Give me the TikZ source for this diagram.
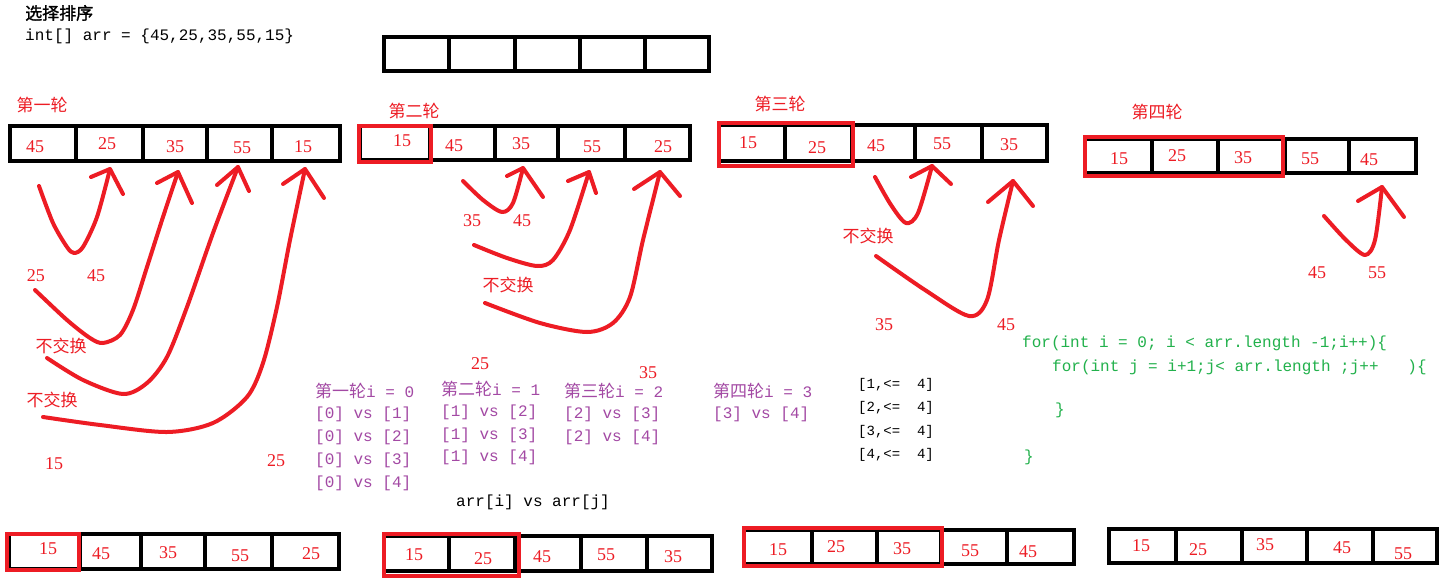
\documentclass[tikz,border=0pt]{standalone}
\usepackage{fontspec}
\setmainfont{Liberation Serif}
\setmonofont{Liberation Mono}
\newfontfamily\cjk{Noto Sans CJK SC}
\newfontfamily\cjkb[FakeBold=1.5]{Noto Sans CJK SC}
\usepackage{xcolor}
\usepackage{tikz}
\definecolor{pred}{RGB}{237,28,36}
\definecolor{ppurple}{RGB}{163,73,164}
\definecolor{pgreen}{RGB}{34,177,76}
\tikzset{
  cellbox/.style ={draw=black,line width=4.5pt},
  hibox/.style   ={draw=pred,line width=4pt},
  pen/.style     ={draw=pred,line width=4pt,line cap=round,line join=round},
  num/.style     ={text=pred,inner sep=0pt,font=\fontsize{18}{20}\selectfont},
  redcjk/.style  ={text=pred,inner sep=0pt,font=\cjk\fontsize{17}{19}\selectfont},
  idx/.style     ={text=ppurple,inner sep=0pt,anchor=west,font=\ttfamily\fontsize{16}{18}\selectfont},
  code/.style    ={text=pgreen,inner sep=0pt,anchor=west,font=\ttfamily\fontsize{16}{18}\selectfont},
  plain/.style   ={text=black,inner sep=0pt,anchor=west,font=\ttfamily\fontsize{16}{18}\selectfont},
}

\begin{document}
\begin{tikzpicture}[x=1pt,y=-1pt]
  \fill[white] (0,0) rectangle (1447,583);
  \useasboundingbox (0,0) rectangle (1447,583);
  % heading
  \node[inner sep=0pt,anchor=west,font=\cjkb\fontsize{17}{19}\selectfont] (title) at (25,13) {选择排序};
  \node[plain] (decl) at (25,36) {int[] arr = \{45,25,35,55,15\}};
  % empty array
  \draw[cellbox] (384,37) rectangle (709,71);
  \draw[cellbox] (449,37)--(449,71) (515,37)--(515,71) (580,37)--(580,71) (645,37)--(645,71);

  % ---- round 1 ----
  \node[redcjk] (r1) at (42,105) {第一轮};
  \draw[cellbox] (10,126) rectangle (340,161);
  \draw[cellbox] (76,126)--(76,161) (143,126)--(143,161) (207,126)--(207,161) (272,126)--(272,161);
  \node[num] (a1-1) at (35,147) {45};
  \node[num] (a1-2) at (107,144) {25};
  \node[num] (a1-3) at (175,147) {35};
  \node[num] (a1-4) at (242,148) {55};
  \node[num] (a1-5) at (303,147) {15};
  \coordinate (s11) at (39,186);  \coordinate (t11) at (110,169);
  \coordinate (s12) at (35,290);  \coordinate (t12) at (178,172);
  \coordinate (s13) at (47,358);  \coordinate (t13) at (238,167);
  \coordinate (s14) at (43,417);  \coordinate (t14) at (305,169);
  \draw[pen] plot[smooth] coordinates {(s11) (53,223) (67,247) (74,253) (83,247) (97,217) (t11)};
  \draw[pen] (91,177)--(t11)--(123,194);
  \draw[pen] plot[smooth] coordinates {(s12) (67,320) (90,338) (103,343) (120,335) (133,310) (147,267) (163,217) (t12)};
  \draw[pen] (157,183)--(t12)--(192,203);
  \draw[pen] plot[smooth] coordinates {(s13) (83,380) (123,394) (147,383) (167,357) (187,307) (213,233) (t13)};
  \draw[pen] (217,185)--(t13)--(249,191);
  \draw[pen] plot[smooth] coordinates {(s14) (100,425) (167,432) (213,423) (247,397) (263,363) (277,307) (290,240) (t14)};
  \draw[pen] (283,184)--(t14)--(324,198);
  \node[num] (l11) at (36,276) {25};
  \node[num] (l12) at (96,276) {45};
  \node[redcjk] (n11) at (61,346) {不交换};
  \node[redcjk] (n12) at (52,400) {不交换};
  \node[num] (l13) at (54,464) {15};
  \node[num] (l14) at (276,461) {25};

  % ---- round 2 ----
  \node[redcjk] (r2) at (414,111) {第二轮};
  \draw[cellbox] (360,126) rectangle (690,160);
  \draw[cellbox] (430,126)--(430,160) (495,126)--(495,160) (558,126)--(558,160) (625,126)--(625,160);
  \draw[hibox] (359,126) rectangle (431,162);
  \node[num] (a2-1) at (402,141) {15};
  \node[num] (a2-2) at (454,146) {45};
  \node[num] (a2-3) at (521,144) {35};
  \node[num] (a2-4) at (592,147) {55};
  \node[num] (a2-5) at (663,147) {25};
  \coordinate (s21) at (463,181);  \coordinate (t21) at (523,168);
  \coordinate (s22) at (474,245);  \coordinate (t22) at (589,172);
  \coordinate (s23) at (485,303);  \coordinate (t23) at (660,172);
  \draw[pen] plot[smooth] coordinates {(s21) (483,200) (502,212) (513,203) (t21)};
  \draw[pen] (507,176)--(t21)--(543,197);
  \draw[pen] plot[smooth] coordinates {(s22) (507,258) (537,266) (553,260) (570,230) (t22)};
  \draw[pen] (568,181)--(t22)--(596,193);
  \draw[pen] plot[smooth] coordinates {(s23) (540,323) (587,332) (613,323) (630,297) (643,240) (t23)};
  \draw[pen] (634,189)--(t23)--(680,196);
  \node[num] (l21) at (472,221) {35};
  \node[num] (l22) at (522,221) {45};
  \node[redcjk] (n21) at (508,285) {不交换};
  \node[num] (l23) at (480,364) {25};
  \node[num] (l24) at (648,373) {35};

  % ---- round 3 ----
  \node[redcjk] (r3) at (780,104) {第三轮};
  \draw[cellbox] (719,125) rectangle (1047,161);
  \draw[cellbox] (785,125)--(785,161) (852,125)--(852,161) (915,125)--(915,161) (982,125)--(982,161);
  \draw[hibox] (719,123) rectangle (853,166);
  \node[num] (a3-1) at (748,143) {15};
  \node[num] (a3-2) at (817,148) {25};
  \node[num] (a3-3) at (876,146) {45};
  \node[num] (a3-4) at (942,144) {55};
  \node[num] (a3-5) at (1009,145) {35};
  \coordinate (s31) at (875,177);  \coordinate (t31) at (932,166);
  \coordinate (s32) at (876,256);  \coordinate (t32) at (1013,181);
  \draw[pen] plot[smooth] coordinates {(s31) (891,205) (906,223) (918,213) (t31)};
  \draw[pen] (911,177)--(t31)--(951,184);
  \draw[pen] plot[smooth] coordinates {(s32) (925,290) (969,316) (987,300) (999,240) (t32)};
  \draw[pen] (988,202)--(t32)--(1033,206);
  \node[redcjk] (n31) at (868,236) {不交换};
  \node[num] (l31) at (884,325) {35};
  \node[num] (l32) at (1006,325) {45};

  % ---- round 4 ----
  \node[redcjk] (r4) at (1157,112) {第四轮};
  \draw[cellbox] (1085,139) rectangle (1416,173);
  \draw[cellbox] (1152,139)--(1152,173) (1218,139)--(1218,173) (1285,139)--(1285,173) (1349,139)--(1349,173);
  \draw[hibox] (1085,137) rectangle (1283,176);
  \node[num] (a4-1) at (1119,159) {15};
  \node[num] (a4-2) at (1177,156) {25};
  \node[num] (a4-3) at (1243,158) {35};
  \node[num] (a4-4) at (1310,159) {55};
  \node[num] (a4-5) at (1369,160) {45};
  \coordinate (s41) at (1324,216);  \coordinate (t41) at (1382,187);
  \draw[pen] plot[smooth] coordinates {(s41) (1346,240) (1365,255) (1375,240) (t41)};
  \draw[pen] (1358,201)--(t41)--(1404,217);
  \node[num] (l41) at (1317,273) {45};
  \node[num] (l42) at (1377,273) {55};

  % index table
  \node[idx] (i1) at (315,391) {{\cjk\fontsize{17}{19}\selectfont 第一轮}i = 0};
  \node[idx] (i1a) at (315,414) {[0] vs [1]};
  \node[idx] (i1b) at (315,437) {[0] vs [2]};
  \node[idx] (i1c) at (315,460) {[0] vs [3]};
  \node[idx] (i1d) at (315,483) {[0] vs [4]};
  \node[idx] (i2) at (441,389) {{\cjk\fontsize{17}{19}\selectfont 第二轮}i = 1};
  \node[idx] (i2a) at (441,412) {[1] vs [2]};
  \node[idx] (i2b) at (441,435) {[1] vs [3]};
  \node[idx] (i2c) at (441,457) {[1] vs [4]};
  \node[idx] (i3) at (564,391) {{\cjk\fontsize{17}{19}\selectfont 第三轮}i = 2};
  \node[idx] (i3a) at (564,414) {[2] vs [3]};
  \node[idx] (i3b) at (564,437) {[2] vs [4]};
  \node[idx] (i4) at (713,391) {{\cjk\fontsize{17}{19}\selectfont 第四轮}i = 3};
  \node[idx] (i4a) at (713,414) {[3] vs [4]};
  \node[plain] (cmp) at (456,502) {arr[i] vs arr[j]};
  \node[plain,font=\ttfamily\fontsize{14}{16}\selectfont] (j1) at (858,385) {[1,<=\ \ 4]};
  \node[plain,font=\ttfamily\fontsize{14}{16}\selectfont] (j2) at (858,408) {[2,<=\ \ 4]};
  \node[plain,font=\ttfamily\fontsize{14}{16}\selectfont] (j3) at (858,432) {[3,<=\ \ 4]};
  \node[plain,font=\ttfamily\fontsize{14}{16}\selectfont] (j4) at (858,455) {[4,<=\ \ 4]};
  % loop code
  \node[code] (c1) at (1022,343) {for(int i = 0; i < arr.length -1;i++)\{};
  \node[code] (c2) at (1052,367) {for(int j = i+1;j< arr.length ;j++\ \ \ )\{};
  \node[code] (c3) at (1055,410) {\}};
  \node[code] (c4) at (1024,457) {\}};

  % ---- results ----
  \draw[cellbox] (9,534) rectangle (339,569);
  \draw[cellbox] (80,534)--(80,569) (141,534)--(141,569) (205,534)--(205,569) (272,534)--(272,569);
  \draw[hibox] (7,534) rectangle (79,570);
  \node[num] (b1-1) at (48,549) {15};
  \node[num] (b1-2) at (101,554) {45};
  \node[num] (b1-3) at (168,553) {35};
  \node[num] (b1-4) at (240,556) {55};
  \node[num] (b1-5) at (311,554) {25};
  \draw[cellbox] (384,536) rectangle (712,571);
  \draw[cellbox] (449,536)--(449,571) (515,536)--(515,571) (581,536)--(581,571) (647,536)--(647,571);
  \draw[hibox] (384,534) rectangle (519,576);
  \node[num] (b2-1) at (414,555) {15};
  \node[num] (b2-2) at (483,559) {25};
  \node[num] (b2-3) at (542,557) {45};
  \node[num] (b2-4) at (606,555) {55};
  \node[num] (b2-5) at (673,557) {35};
  \draw[cellbox] (744,530) rectangle (1074,564);
  \draw[cellbox] (812,530)--(812,564) (877,530)--(877,564) (941,530)--(941,564) (1007,530)--(1007,564);
  \draw[hibox] (744,528) rectangle (942,566);
  \node[num] (b3-1) at (778,550) {15};
  \node[num] (b3-2) at (836,547) {25};
  \node[num] (b3-3) at (902,549) {35};
  \node[num] (b3-4) at (970,551) {55};
  \node[num] (b3-5) at (1028,552) {45};
  \draw[cellbox] (1109,529) rectangle (1437,563);
  \draw[cellbox] (1176,529)--(1176,563) (1242,529)--(1242,563) (1307,529)--(1307,563) (1373,529)--(1373,563);
  \node[num] (b4-1) at (1141,546) {15};
  \node[num] (b4-2) at (1198,550) {25};
  \node[num] (b4-3) at (1265,545) {35};
  \node[num] (b4-4) at (1342,548) {45};
  \node[num] (b4-5) at (1403,554) {55};
\end{tikzpicture}
\end{document}
